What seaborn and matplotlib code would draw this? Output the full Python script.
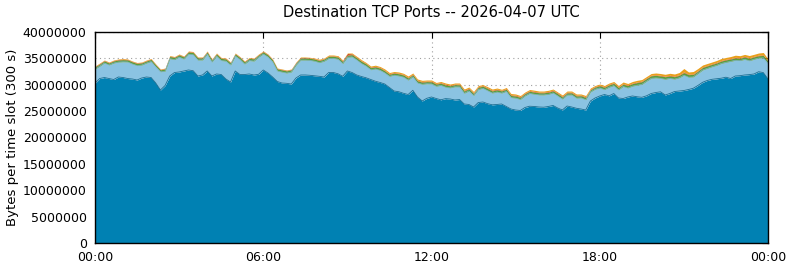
import numpy as np
import pandas as pd
import matplotlib
matplotlib.use("Agg")
import matplotlib.pyplot as plt
import seaborn as sns

# ---- data (values in millions of bytes per 300 s slot, one value every 10 minutes) ----
hours = [i / 6 for i in range(145)]

total_top = [
    33.55, 34.12, 34.69, 34.31, 34.69, 34.88, 34.98, 34.88, 34.50, 34.22, 34.31, 34.69,
    34.98, 33.93, 32.99, 33.17, 35.54, 35.35, 35.83, 35.45, 36.40, 36.30, 35.26, 35.26,
    36.40, 34.88, 36.02, 35.17, 35.07, 34.31, 36.02, 35.35, 34.50, 35.17, 35.07, 35.83,
    36.40, 35.83, 34.88, 33.17, 32.99, 32.80, 32.99, 34.31, 35.26, 35.26, 35.20, 35.07,
    34.84, 35.07, 35.64, 35.64, 35.51, 34.69, 36.02, 36.02, 35.39, 34.75, 34.22, 33.55,
    33.71, 33.46, 32.99, 32.32, 32.51, 32.42, 32.17, 31.66, 32.23, 31.09, 30.84, 30.90,
    30.90, 30.43, 30.62, 30.33, 30.14, 30.33, 30.33, 29.19, 29.57, 28.72, 29.86, 30.03,
    29.63, 29.19, 29.38, 29.14, 29.48, 28.34, 28.25, 27.96, 28.63, 29.10, 28.97, 28.81,
    28.81, 28.95, 29.19, 28.63, 28.06, 28.81, 28.81, 28.25, 28.25, 27.96, 29.38, 29.86,
    30.14, 29.86, 30.33, 30.62, 29.86, 30.52, 30.24, 30.62, 30.84, 30.99, 31.56, 32.13,
    32.23, 32.13, 31.98, 32.17, 32.04, 32.32, 33.08, 32.42, 32.51, 33.08, 33.74, 34.03,
    34.31, 34.60, 34.98, 35.17, 35.35, 35.60, 35.51, 35.75, 35.54, 35.77, 36.02, 36.11,
    34.88,
]

port_main = [
    30.27, 31.18, 31.37, 31.18, 30.99, 31.47, 31.37, 31.18, 31.09, 30.90, 31.28, 31.47,
    31.37, 30.33, 29.00, 29.86, 31.66, 32.32, 32.42, 32.61, 32.80, 32.66, 31.66, 31.85,
    32.61, 31.66, 32.04, 31.94, 31.09, 30.52, 32.61, 31.94, 31.94, 32.04, 31.85, 31.98,
    32.80, 32.23, 31.47, 30.62, 30.33, 30.27, 30.14, 31.28, 31.85, 31.85, 31.79, 31.70,
    31.60, 31.47, 32.32, 32.32, 32.08, 31.60, 32.61, 32.32, 31.85, 31.56, 31.32, 30.99,
    30.67, 30.43, 30.14, 29.48, 28.81, 28.68, 28.38, 28.15, 28.95, 27.68, 26.92, 27.43,
    27.68, 27.39, 27.15, 27.37, 27.30, 27.11, 27.20, 26.35, 26.26, 25.78, 26.63, 26.73,
    26.41, 26.20, 26.26, 26.35, 25.88, 25.40, 25.21, 25.12, 25.69, 25.93, 25.88, 25.78,
    25.74, 25.88, 26.07, 25.59, 25.21, 25.97, 25.78, 25.54, 25.40, 25.21, 26.92, 27.49,
    27.87, 28.15, 27.90, 28.34, 27.49, 27.39, 27.68, 27.87, 27.72, 27.62, 27.90, 28.34,
    28.53, 28.66, 28.06, 28.34, 28.72, 28.81, 28.91, 29.10, 29.33, 29.86, 30.46, 30.81,
    31.03, 31.13, 31.24, 31.43, 31.18, 31.66, 31.72, 31.85, 31.92, 32.04, 32.47, 32.30,
    31.09,
]

port_green = [
    0.40, 0.42, 0.40, 0.38, 0.40, 0.41, 0.40, 0.39, 0.40, 0.40, 0.41, 0.40,
    0.40, 0.38, 0.37, 0.40, 0.41, 0.42, 0.40, 0.41, 0.43, 0.40, 0.41, 0.40,
    0.40, 0.41, 0.40, 0.42, 0.40, 0.41, 0.40, 0.39, 0.40, 0.41, 0.42, 0.40,
    0.40, 0.39, 0.38, 0.40, 0.41, 0.40, 0.41, 0.40, 0.40, 0.41, 0.40, 0.40,
    0.41, 0.40, 0.42, 0.40, 0.41, 0.40, 0.40, 0.41, 0.40, 0.42, 0.41, 0.40,
    0.40, 0.41, 0.40, 0.39, 0.40, 0.41, 0.40, 0.41, 0.40, 0.40, 0.41, 0.40,
    0.40, 0.41, 0.40, 0.42, 0.40, 0.41, 0.40, 0.43, 0.41, 0.40, 0.42, 0.40,
    0.41, 0.40, 0.42, 0.41, 0.40, 0.40, 0.41, 0.40, 0.42, 0.40, 0.41, 0.40,
    0.40, 0.41, 0.40, 0.42, 0.40, 0.41, 0.40, 0.41, 0.40, 0.42, 0.41, 0.40,
    0.42, 0.43, 0.44, 0.43, 0.45, 0.44, 0.46, 0.48, 0.50, 0.52, 0.50, 0.48,
    0.47, 0.46, 0.48, 0.47, 0.46, 0.48, 0.50, 0.48, 0.47, 0.46, 0.48, 0.47,
    0.46, 0.45, 0.46, 0.47, 0.45, 0.46, 0.45, 0.46, 0.47, 0.46, 0.45, 0.46,
    0.45,
]

port_red = [
    0.08, 0.09, 0.08, 0.08, 0.09, 0.08, 0.10, 0.08, 0.08, 0.09, 0.08, 0.08,
    0.08, 0.08, 0.08, 0.09, 0.08, 0.08, 0.09, 0.08, 0.08, 0.10, 0.08, 0.08,
    0.09, 0.08, 0.08, 0.08, 0.09, 0.08, 0.08, 0.08, 0.09, 0.08, 0.08, 0.08,
    0.08, 0.09, 0.08, 0.08, 0.08, 0.09, 0.08, 0.08, 0.08, 0.09, 0.08, 0.08,
    0.09, 0.08, 0.08, 0.08, 0.10, 0.12, 0.30, 0.15, 0.10, 0.09, 0.08, 0.10,
    0.09, 0.10, 0.09, 0.10, 0.10, 0.09, 0.10, 0.11, 0.10, 0.10, 0.11, 0.10,
    0.11, 0.10, 0.11, 0.12, 0.11, 0.10, 0.11, 0.12, 0.11, 0.12, 0.11, 0.10,
    0.11, 0.12, 0.11, 0.10, 0.11, 0.12, 0.13, 0.12, 0.11, 0.12, 0.11, 0.10,
    0.11, 0.12, 0.11, 0.12, 0.13, 0.12, 0.11, 0.12, 0.11, 0.12, 0.11, 0.10,
    0.11, 0.10, 0.10, 0.11, 0.10, 0.10, 0.11, 0.10, 0.10, 0.10, 0.11, 0.10,
    0.10, 0.11, 0.10, 0.10, 0.11, 0.10, 0.12, 0.10, 0.10, 0.11, 0.10, 0.10,
    0.10, 0.11, 0.10, 0.10, 0.11, 0.10, 0.10, 0.11, 0.10, 0.10, 0.11, 0.10,
    0.10,
]

port_orange = [
    0.08, 0.09, 0.08, 0.10, 0.08, 0.09, 0.12, 0.08, 0.08, 0.09, 0.08, 0.10,
    0.09, 0.08, 0.08, 0.09, 0.10, 0.08, 0.09, 0.08, 0.10, 0.09, 0.08, 0.08,
    0.09, 0.08, 0.10, 0.08, 0.09, 0.08, 0.09, 0.08, 0.08, 0.09, 0.08, 0.10,
    0.09, 0.08, 0.08, 0.08, 0.09, 0.08, 0.08, 0.09, 0.10, 0.08, 0.09, 0.12,
    0.14, 0.13, 0.16, 0.15, 0.16, 0.14, 0.10, 0.16, 0.18, 0.20, 0.18, 0.20,
    0.22, 0.20, 0.25, 0.22, 0.20, 0.24, 0.22, 0.25, 0.22, 0.24, 0.22, 0.20,
    0.22, 0.20, 0.22, 0.24, 0.22, 0.20, 0.22, 0.25, 0.22, 0.24, 0.22, 0.20,
    0.22, 0.24, 0.22, 0.20, 0.22, 0.25, 0.24, 0.22, 0.20, 0.22, 0.24, 0.22,
    0.22, 0.24, 0.22, 0.20, 0.24, 0.22, 0.22, 0.24, 0.22, 0.25, 0.22, 0.20,
    0.22, 0.24, 0.25, 0.24, 0.28, 0.30, 0.28, 0.30, 0.32, 0.30, 0.28, 0.32,
    0.35, 0.34, 0.36, 0.38, 0.40, 0.42, 0.65, 0.40, 0.45, 0.38, 0.36, 0.35,
    0.34, 0.36, 0.38, 0.35, 0.36, 0.40, 0.38, 0.36, 0.42, 0.38, 0.40, 0.45,
    0.30,
]

# ---- derived stacked layers ----
df = pd.DataFrame({"hour": hours, "total": total_top, "main": port_main,
                   "green": port_green, "red": port_red, "orange": port_orange})
df["light"] = df["total"] - df["main"] - df["green"] - df["red"] - df["orange"]
layers = ["main", "light", "green", "red", "orange"]
colors = ["#0081b3", "#8bc3e2", "#5c9f35", "#c9401e", "#ea9f1c"]

sns.set_theme(style="white")
plt.rcParams["font.family"] = ["DejaVu Sans"]

fig = plt.figure(figsize=(7.9, 2.67), dpi=100)
ax = fig.add_axes([95 / 790, 24 / 267, 673 / 790, 211 / 267])

ys = [df[c].to_numpy() * 1e6 for c in layers]
ax.stackplot(df["hour"], *ys, colors=colors, linewidth=0, zorder=2)
cum = np.cumsum(np.vstack(ys), axis=0)
# subtle outlines on the two big layers
sns.lineplot(x=df["hour"], y=cum[0], ax=ax, color="#1c6e92", linewidth=0.6,
             zorder=3, legend=False)
sns.lineplot(x=df["hour"], y=cum[1], ax=ax, color="#7fb2cc", linewidth=0.5,
             zorder=3, legend=False)

ax.set_xlim(0, 24)
ax.set_ylim(0, 40e6)
ax.set_xticks([0, 6, 12, 18, 24])
ax.set_xticklabels(["00:00", "06:00", "12:00", "18:00", "00:00"])
yt = np.arange(0, 40e6 + 1, 5e6)
ax.set_yticks(yt)
ax.set_yticklabels([f"{int(v)}" for v in yt])
ax.tick_params(axis="both", direction="in", length=4, width=0.8, colors="black",
               labelsize=9, top=True, right=True, labelcolor="black", pad=6)
ax.grid(True, color="#a0a0a0", linestyle=(0, (1, 3)), linewidth=0.8)
ax.set_axisbelow(True)
for s in ax.spines.values():
    s.set_color("black")
    s.set_linewidth(1.0)
    s.set_zorder(5)
ax.set_xlabel("")
ax.set_ylabel("Bytes per time slot (300 s)", fontsize=9.5, color="black", labelpad=3)
ax.set_title("Destination TCP Ports -- 2026-04-07 UTC", fontsize=10.5, color="black", pad=11)

fig.savefig("out.png", dpi=100)
